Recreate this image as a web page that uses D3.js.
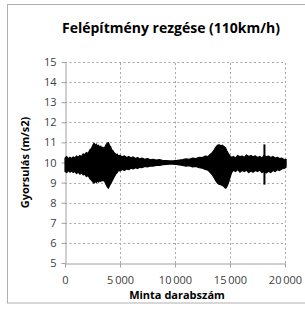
<!DOCTYPE html>
<html>
<head>
<meta charset="utf-8">
<script src="https://cdn.jsdelivr.net/npm/d3@7"></script>
<style>
  body { margin: 0; background: #fff; }
  svg { display: block; font-family: "Open Sans", sans-serif; }
</style>
</head>
<body>
<div id="chart"></div>
<script>
// chart text
const title = 'Felépítmény rezgése (110km/h)';
const xTitle = 'Minta darabszám';
const yTitle = 'Gyorsulás (m/s2)';
const xTicks = [0, 5000, 10000, 15000, 20000];
const yTicks = [5, 6, 7, 8, 9, 10, 11, 12, 13, 14, 15];

// signal envelope (sample index, max, min)
const sampleIdx = [0, 150, 300, 450, 600, 750, 900, 1050, 1200, 1350, 1500, 1650, 1800, 1950, 2100, 2250, 2400, 2550, 2650, 2750, 2850, 2950, 3050, 3150, 3250, 3350, 3450, 3550, 3650, 3750, 3850, 3950, 4050, 4150, 4250, 4350, 4450, 4550, 4650, 4750, 4850, 5000, 5200, 5400, 5600, 5800, 6000, 6200, 6400, 6600, 6800, 7000, 7250, 7500, 7750, 8000, 8300, 8600, 8900, 9200, 9500, 9800, 10100, 10400, 10700, 11000, 11300, 11600, 11900, 12200, 12500, 12750, 13000, 13200, 13400, 13550, 13700, 13850, 14000, 14150, 14300, 14450, 14600, 14700, 14800, 14900, 15000, 15150, 15300, 15500, 15700, 15900, 16100, 16300, 16500, 16700, 16900, 17100, 17300, 17500, 17700, 17900, 18100, 18300, 18500, 18700, 18900, 19100, 19300, 19500, 19700, 19900, 20100];
const upper = [10.22, 10.3, 10.18, 10.26, 10.2, 10.28, 10.22, 10.33, 10.25, 10.35, 10.3, 10.43, 10.38, 10.5, 10.45, 10.62, 10.7, 10.88, 10.96, 10.85, 10.92, 10.8, 10.86, 10.75, 10.82, 10.7, 10.76, 10.68, 10.8, 10.9, 10.97, 10.99, 10.85, 10.78, 10.63, 10.6, 10.5, 10.45, 10.38, 10.42, 10.32, 10.36, 10.28, 10.33, 10.25, 10.3, 10.22, 10.28, 10.2, 10.25, 10.18, 10.22, 10.16, 10.2, 10.13, 10.16, 10.12, 10.14, 10.1, 10.1, 10.08, 10.08, 10.1, 10.12, 10.14, 10.18, 10.16, 10.22, 10.2, 10.26, 10.25, 10.32, 10.3, 10.4, 10.5, 10.62, 10.75, 10.85, 10.88, 10.84, 10.86, 10.8, 10.72, 10.6, 10.5, 10.4, 10.32, 10.25, 10.3, 10.22, 10.35, 10.28, 10.32, 10.25, 10.38, 10.3, 10.35, 10.28, 10.33, 10.25, 10.3, 10.22, 10.35, 10.28, 10.32, 10.25, 10.3, 10.22, 10.26, 10.2, 10.22, 10.15, 10.16];
const lower = [9.55, 9.5, 9.6, 9.52, 9.58, 9.5, 9.56, 9.45, 9.52, 9.42, 9.48, 9.38, 9.42, 9.3, 9.35, 9.2, 9.12, 9.02, 8.97, 9.08, 9.0, 9.1, 9.02, 9.12, 9.05, 9.15, 9.08, 9.12, 9.0, 8.88, 8.78, 8.72, 8.85, 8.95, 9.05, 9.15, 9.25, 9.35, 9.45, 9.5, 9.6, 9.58, 9.65, 9.6, 9.68, 9.64, 9.72, 9.68, 9.74, 9.7, 9.76, 9.74, 9.8, 9.78, 9.83, 9.82, 9.86, 9.85, 9.89, 9.9, 9.92, 9.92, 9.9, 9.88, 9.86, 9.82, 9.84, 9.78, 9.8, 9.74, 9.72, 9.66, 9.62, 9.5, 9.38, 9.25, 9.1, 8.98, 8.92, 8.9, 8.86, 8.8, 8.72, 8.78, 8.9, 9.05, 9.25, 9.5, 9.62, 9.55, 9.65, 9.52, 9.6, 9.55, 9.62, 9.5, 9.58, 9.52, 9.6, 9.55, 9.62, 9.5, 9.55, 9.48, 9.56, 9.5, 9.6, 9.55, 9.64, 9.6, 9.68, 9.7, 9.77];

// single spike near the end
const spikeIdx = [18130];
const spikeHigh = [10.9];
const spikeLow = [8.9];

const W = 305, H = 309;
const MARGIN = { top: 62, right: 22, bottom: 46, left: 65 };

const svg = d3.select('#chart').append('svg')
  .attr('width', W).attr('height', H);

// outer frame
svg.append('rect')
  .attr('x', 7.5).attr('y', 4.5)
  .attr('width', 300).attr('height', 298.5)
  .attr('fill', '#fff')
  .attr('stroke', '#b0b0b0');

const x = d3.scaleLinear().domain([0, 20000]).range([MARGIN.left, W - MARGIN.right + 2]);
const y = d3.scaleLinear().domain([5, 15]).range([H - MARGIN.bottom, MARGIN.top]);

// gridlines
const $grid = svg.append('g').attr('class', 'grid')
  .attr('stroke', '#a6a6a6').attr('stroke-dasharray', '2,2.5');
$grid.selectAll('.gy').data(yTicks.slice(1)).join('line')
  .attr('x1', x(0)).attr('x2', x(20000))
  .attr('y1', d => Math.round(y(d)) + 0.5).attr('y2', d => Math.round(y(d)) + 0.5);
$grid.selectAll('.gx').data(xTicks.slice(1)).join('line')
  .attr('y1', y(5)).attr('y2', y(15))
  .attr('x1', d => Math.round(x(d)) + 0.5).attr('x2', d => Math.round(x(d)) + 0.5);

// axes
const fmt = d => d === 0 ? '0' : d3.format(',')(d).replace(',', '\u2009');
const $xAxis = svg.append('g')
  .attr('transform', `translate(0,${Math.round(y(5)) + 0.5})`)
  .call(d3.axisBottom(x).tickValues(xTicks).tickSize(4).tickSizeOuter(0).tickFormat(fmt));
const $yAxis = svg.append('g')
  .attr('transform', `translate(${Math.round(x(0)) + 0.5},0)`)
  .call(d3.axisLeft(y).tickValues(yTicks).tickSize(4).tickSizeOuter(0));

[$xAxis, $yAxis].forEach($a => {
  $a.select('.domain').attr('stroke', '#a0a0a0');
  $a.selectAll('.tick line').attr('stroke', '#a0a0a0');
  $a.selectAll('.tick text')
    .attr('fill', '#404040')
    .style('font-size', '11px')
    .style('font-family', '"Open Sans", sans-serif');
});
$xAxis.selectAll('.tick text').attr('y', 0).attr('dy', '20px');
$yAxis.selectAll('.tick text').attr('x', -9);

// signal envelope
const area = d3.area()
  .x((d, i) => x(sampleIdx[i]))
  .y0((d, i) => y(lower[i]))
  .y1((d, i) => y(upper[i]));
svg.append('path')
  .datum(sampleIdx)
  .attr('d', area)
  .attr('fill', '#000')
  .attr('stroke', '#000')
  .attr('stroke-width', 1.2)
  .attr('stroke-linejoin', 'round');

svg.selectAll('.spike').data(spikeIdx).join('line')
  .attr('x1', d => x(d)).attr('x2', d => x(d))
  .attr('y1', (d, i) => y(spikeHigh[i])).attr('y2', (d, i) => y(spikeLow[i]))
  .attr('stroke', '#000').attr('stroke-width', 2);

// titles
svg.append('text')
  .attr('x', 171).attr('y', 33)
  .attr('text-anchor', 'middle')
  .style('font-size', '14px').style('font-weight', 'bold')
  .attr('fill', '#000')
  .text(title);

svg.append('text')
  .attr('x', (x(0) + x(20000)) / 2 + 2).attr('y', 299)
  .attr('text-anchor', 'middle')
  .style('font-size', '11px').style('font-weight', 'bold')
  .text(xTitle);

svg.append('text')
  .attr('transform', `translate(29,${y(10)}) rotate(-90)`)
  .attr('text-anchor', 'middle')
  .style('font-size', '11px').style('font-weight', 'bold')
  .text(yTitle);
</script>
</body>
</html>
